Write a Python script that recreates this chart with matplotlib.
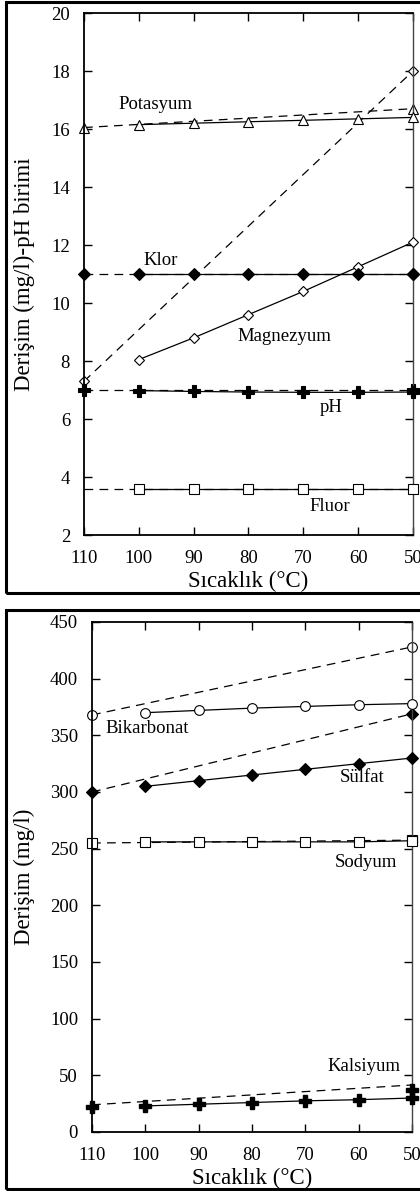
import numpy as np
import matplotlib
matplotlib.use('Agg')
import matplotlib.pyplot as plt
from matplotlib.patches import Rectangle

plt.rcParams['font.family'] = ['Liberation Serif', 'DejaVu Serif']

# sıcaklık ekseni (ters)
sicaklik = [100, 90, 80, 70, 60, 50]
uclar = [110, 50]

# ust grafik: iyonlar ve pH
potasyum = [16.15, 16.2, 16.25, 16.3, 16.35, 16.4]
potasyum_k = [16.05, 16.7]
magnezyum = [8.05, 8.8, 9.6, 10.4, 11.25, 12.1]
magnezyum_k = [7.3, 18.0]
klor = [11.0, 11.0, 11.0, 11.0, 11.0, 11.0]
klor_k = [11.0, 11.0]
ph = [6.98, 6.95, 6.93, 6.92, 6.92, 6.93]
ph_k = [7.0, 7.0]
fluor = [3.57, 3.57, 3.57, 3.57, 3.57, 3.57]
fluor_k = [3.57, 3.57]

# alt grafik
bikarbonat = [370, 372, 374, 375.5, 377, 378]
bikarbonat_k = [368, 428]
sulfat = [305, 310, 315, 320, 325, 330]
sulfat_k = [300, 369]
sodyum = [256, 256, 256, 256, 256, 257]
sodyum_k = [255, 257.5]
kalsiyum = [23, 24.5, 26, 27.5, 28.5, 30]
kalsiyum_k = [22, 37]
kalsiyum_trend = [24, 41.5]

xticks = [110, 100, 90, 80, 70, 60, 50]

fig = plt.figure(figsize=(4.2, 11.91), dpi=100)

# panel cerceveleri
fig.patches.append(Rectangle((6/420, 1-593/1191), 1.1, 591/1191, transform=fig.transFigure,
                             fill=False, lw=2.2, ec='k'))
fig.patches.append(Rectangle((6/420, 1-1189/1191), 1.1, 579/1191, transform=fig.transFigure,
                             fill=False, lw=2.2, ec='k'))


def eksen_ayarla(ax):
    ax.set_xlim(110, 50)
    ax.set_xticks(xticks)
    ax.tick_params(direction='in', length=6, width=1, top=True, right=True,
                   labelsize=13.5, pad=10)
    ax.tick_params(axis='x', pad=11)
    for s in ['left', 'bottom', 'top']:
        ax.spines[s].set_linewidth(1.3)
    ax.spines['right'].set_linewidth(1.0)
    ax.spines['right'].set_color('#444444')
    ax.set_xlabel('Sıcaklık (°C)', fontsize=16.5, labelpad=2.5)


def ciz(ax, y, yk, marker, fill, ms):
    mfc = 'k' if fill else 'white'
    ax.plot(sicaklik, y, '-', color='k', lw=0.9, marker=marker, ms=ms, mfc=mfc,
            mec='k', mew=0.8, clip_on=False, zorder=3)
    ax.plot(uclar, yk, color='k', lw=0.9, dashes=(7, 5), marker=marker, ms=ms,
            mfc=mfc, mec='k', mew=0.8, clip_on=False, zorder=2)


# ust grafik
ax1 = fig.add_axes([84/420, 1-535/1191, 329/420, 522/1191])
eksen_ayarla(ax1)
ax1.set_ylim(2, 20)
ax1.set_yticks(np.arange(2, 21, 2))
ciz(ax1, potasyum, potasyum_k, '^', False, 7)
ciz(ax1, magnezyum, magnezyum_k, 'D', False, 5.5)
ciz(ax1, klor, klor_k, 'D', True, 6)
ciz(ax1, ph, ph_k, 'P', True, 8)
ax1.plot(sicaklik, fluor, '-', color='k', lw=0.9, marker='s', ms=6.5, mfc='white',
         mec='k', mew=0.8, clip_on=False, zorder=3)
ax1.plot(uclar, fluor_k, color='k', lw=0.9, dashes=(7, 5), zorder=2)
ax1.set_ylabel('Derişim (mg/l)-pH birimi', fontsize=16.5)
ax1.yaxis.set_label_coords(-0.15, 0.5)

ax1.text(97, 16.86, 'Potasyum', fontsize=13.5, ha='center', va='center')
ax1.text(96, 11.48, 'Klor', fontsize=13.5, ha='center', va='center')
ax1.text(73.4, 8.83, 'Magnezyum', fontsize=13.5, ha='center', va='center')
ax1.text(65, 6.38, 'pH', fontsize=13.5, ha='center', va='center')
ax1.text(65.2, 2.97, 'Fluor', fontsize=13.5, ha='center', va='center')

# alt grafik
ax2 = fig.add_axes([92/420, 1-1132/1191, 320/420, 510/1191])
eksen_ayarla(ax2)
ax2.set_ylim(0, 450)
ax2.set_yticks(np.arange(0, 451, 50))
ciz(ax2, bikarbonat, bikarbonat_k, 'o', False, 7)
ciz(ax2, sulfat, sulfat_k, 'D', True, 6)
ciz(ax2, sodyum, sodyum_k, 's', False, 6.5)
ax2.plot(sicaklik, kalsiyum, '-', color='k', lw=0.9, marker='P', ms=8, mfc='k',
         mec='k', clip_on=False, zorder=3)
ax2.plot(uclar, kalsiyum_trend, color='k', lw=0.9, dashes=(7, 5), zorder=2)
ax2.plot(uclar, kalsiyum_k, ls='none', marker='P', ms=8, mfc='k', mec='k',
         clip_on=False, zorder=3)
ax2.set_ylabel('Derişim (mg/l)', fontsize=16.5)
ax2.yaxis.set_label_coords(-0.178, 0.5)

ax2.text(99.7, 355.6, 'Bikarbonat', fontsize=13.5, ha='center', va='center')
ax2.text(59.4, 313, 'Sülfat', fontsize=13.5, ha='center', va='center')
ax2.text(58.6, 238, 'Sodyum', fontsize=13.5, ha='center', va='center')
ax2.text(59, 58, 'Kalsiyum', fontsize=13.5, ha='center', va='center')

fig.savefig('out.png', dpi=100)
